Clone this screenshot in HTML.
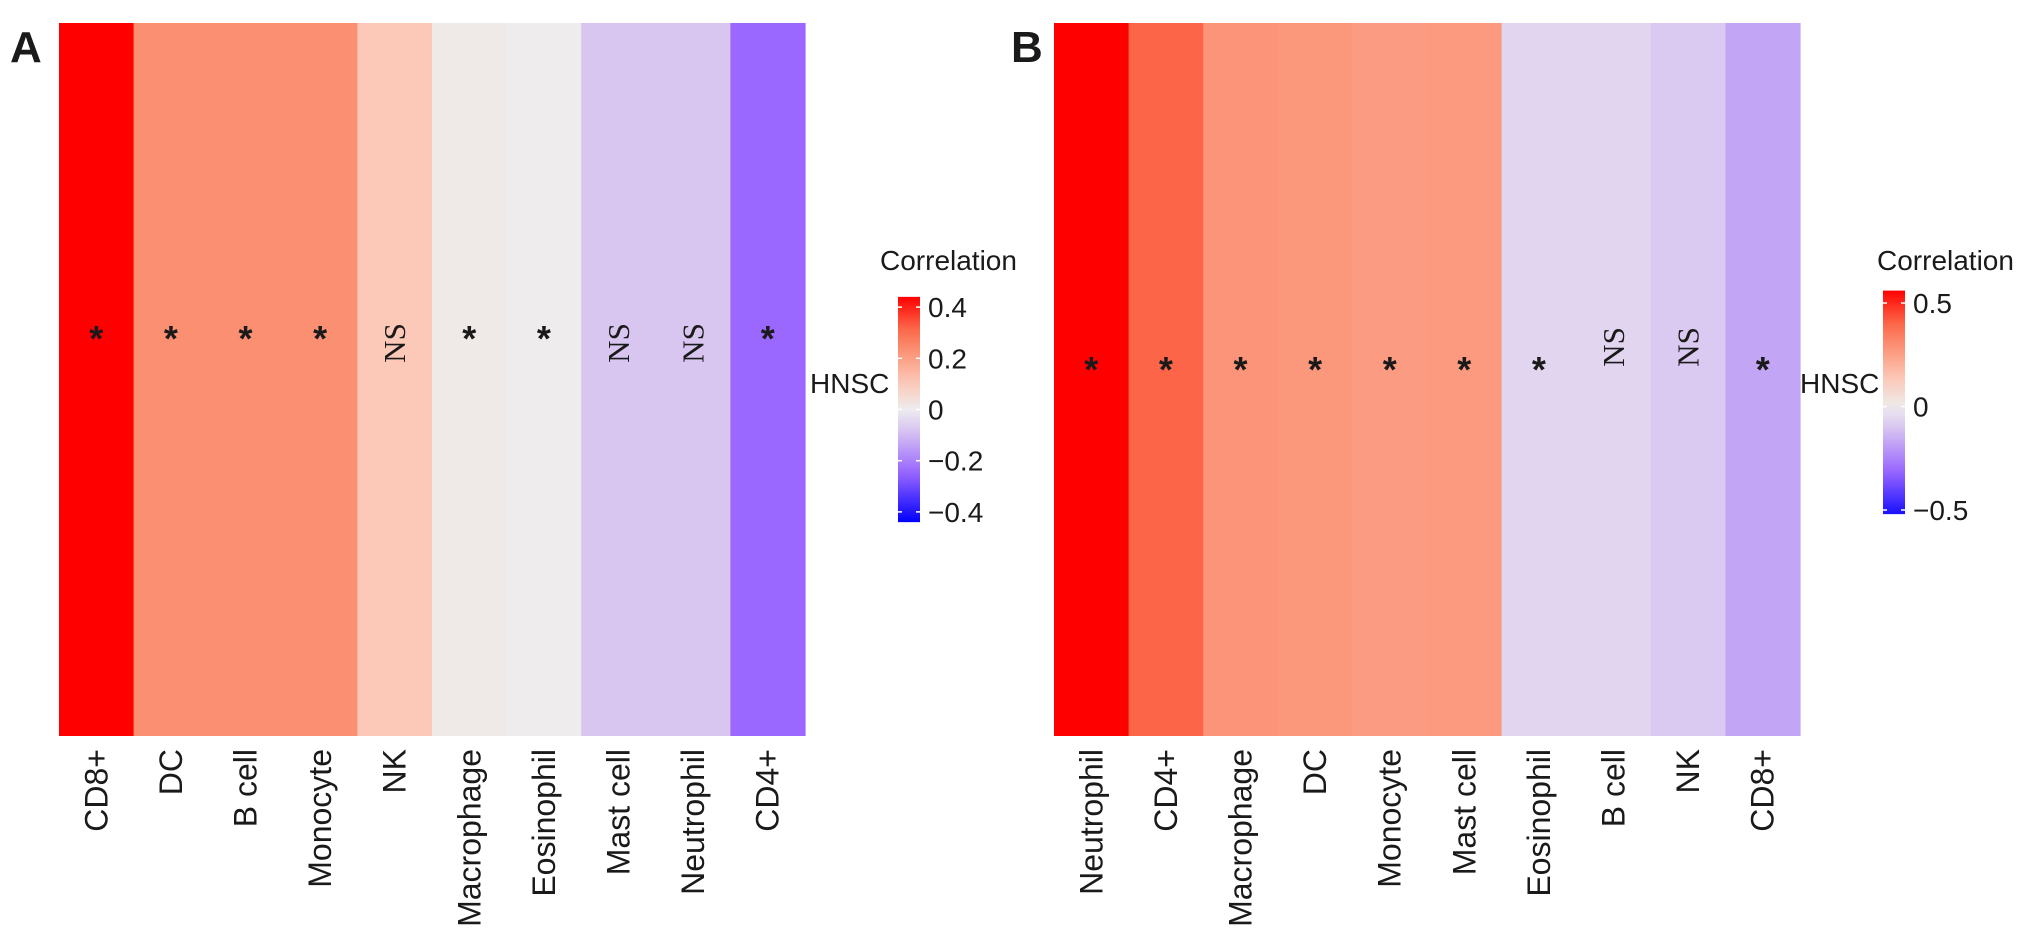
<!DOCTYPE html>
<html><head><meta charset="utf-8"><style>
html,body{margin:0;padding:0;background:#fff;}
svg{display:block;}
text{font-family:"Liberation Sans",Arial,sans-serif;fill:#1a1a1a;}
</style></head>
<body>
<svg id="chart" width="2031" height="938" viewBox="0 0 2031 938" xmlns="http://www.w3.org/2000/svg">
<defs>
<linearGradient id="gA" x1="0" y1="0" x2="0" y2="1"></linearGradient>
<linearGradient id="gB" x1="0" y1="0" x2="0" y2="1"></linearGradient>
</defs>
</svg>
<script>
// Panel A data
const catsA = ["CD8+","DC","B cell","Monocyte","NK","Macrophage","Eosinophil","Mast cell","Neutrophil","CD4+"];
const valsA = [0.45,0.24,0.24,0.24,0.11,0.01,0.0,-0.08,-0.08,-0.25];
const sigA = ["*","*","*","*","NS","*","*","NS","NS","*"];
const ticksA = [0.4,0.2,0,-0.2,-0.4];
const tickLabelsA = ["0.4","0.2","0","\u22120.2","\u22120.4"];
// Panel B data
const catsB = ["Neutrophil","CD4+","Macrophage","DC","Monocyte","Mast cell","Eosinophil","B cell","NK","CD8+"];
const valsB = [0.55,0.40,0.28,0.27,0.26,0.265,-0.06,-0.06,-0.09,-0.17];
const sigB = ["*","*","*","*","*","*","*","NS","NS","*"];
const ticksB = [0.5,0,-0.5];
const tickLabelsB = ["0.5","0","\u22120.5"];

const NS = "http://www.w3.org/2000/svg";
const svg = document.getElementById('chart');
function mk(tag, attrs, parent){
  const e = document.createElementNS(NS, tag);
  for (const k in attrs) e.setAttribute(k, attrs[k]);
  (parent||svg).appendChild(e);
  return e;
}
const posStops = [[0,[238,236,236]],[0.25,[252,199,182]],[0.5,[251,150,122]],[0.73,[252,100,70]],[1,[255,0,0]]];
const negStops = [[0,[238,236,240]],[0.18,[216,198,240]],[0.56,[153,102,255]],[1,[0,0,255]]];
function interp(stops,t){
  t=Math.max(0,Math.min(1,t));
  for(let i=1;i<stops.length;i++){
    if(t<=stops[i][0]){
      const a=stops[i-1],b=stops[i],f=(t-a[0])/(b[0]-a[0]);
      return a[1].map((c,j)=>Math.round(c+(b[1][j]-c)*f));
    }
  }
  return stops[stops.length-1][1];
}
function color(v,max){
  const c = v>=0 ? interp(posStops,v/max) : interp(negStops,-v/max);
  return `rgb(${c[0]},${c[1]},${c[2]})`;
}

function panel(cfg){
  const {x0,x1,y0,y1,cats,vals,sig,max,starY,nsY,letter,letterX,ticks,tickLabels,gid,legTopV,legBotV,legYfn,legX,titleX,hnscX} = cfg;
  const g = mk('g',{});
  
  
  const n = cats.length, w=(x1-x0)/n;
  const xc = i => x0 + w*(i+0.5);
  const pl = mk('text',{x:letterX,y:62,'font-size':44,'font-weight':'bold',fill:'#000'},g);
  pl.textContent = letter;
  
  
  cats.forEach((c,i)=>{
    const r = mk('rect',{x:x0+w*i,y:y0,width:w+0.6,height:y1-y0,fill:color(vals[i],max)},g);
    
    
    const lab = mk('text',{x:0,y:0,'font-size':32,'text-anchor':'end',transform:`translate(${xc(i)+11},${y1+13}) rotate(-90)`},g);
    lab.textContent = c;
    
    
    let s;
    if(sig[i]==="NS"){
      s = mk('text',{x:0,y:0,'font-size':31,'text-anchor':'middle','dominant-baseline':'central',transform:`translate(${xc(i)},${nsY}) rotate(-90)`,style:'font-family:"Liberation Serif",serif'},g);
    } else {
      s = mk('text',{x:xc(i),y:starY+20,'font-size':36,'font-weight':'bold','text-anchor':'middle',fill:'#111'},g);
    }
    s.textContent = sig[i];
    
    
  });
  // legend
  const grad = document.getElementById(gid);
  const nStops = 20;
  for(let k=0;k<=nStops;k++){
    const v = legTopV + (legBotV-legTopV)*k/nStops;
    mk('stop',{offset:(k/nStops*100)+'%','stop-color':color(v,Math.max(Math.abs(legTopV),Math.abs(legBotV)))},grad);
  }
  const lt = legYfn(legTopV), lb = legYfn(legBotV);
  const bar = mk('rect',{x:legX,y:lt,width:22,height:lb-lt,fill:`url(#${gid})`},g);
  
  
  ticks.forEach((t,i)=>{
    const y = legYfn(t);
    mk('line',{x1:legX,x2:legX+4,y1:y,y2:y,stroke:'#fff','stroke-width':1.5},g);
    mk('line',{x1:legX+18,x2:legX+22,y1:y,y2:y,stroke:'#fff','stroke-width':1.5},g);
    const tl = mk('text',{x:legX+30,y:y+10,'font-size':28},g);
    tl.textContent = tickLabels[i];
    
    
  });
  const tt = mk('text',{x:titleX,y:270,'font-size':28},g);
  tt.textContent = 'Correlation';
  
  
  const hn = mk('text',{x:hnscX,y:393,'font-size':28},g);
  hn.textContent = 'HNSC';
  
  
}

panel({x0:59,x1:805,y0:23,y1:736,cats:catsA,vals:valsA,sig:sigA,max:0.45,starY:331,nsY:343,letter:'A',letterX:10,
  ticks:ticksA,tickLabels:tickLabelsA,gid:'gA',legTopV:0.44,legBotV:-0.44,legYfn:v=>409.5-v*256,legX:898,titleX:880,hnscX:810});
panel({x0:1054,x1:1800,y0:23,y1:736,cats:catsB,vals:valsB,sig:sigB,max:0.55,starY:362,nsY:347,letter:'B',letterX:1011,
  ticks:ticksB,tickLabels:tickLabelsB,gid:'gB',legTopV:0.56,legBotV:-0.52,legYfn:v=>406.5-v*207,legX:1883,titleX:1877,hnscX:1800});
</script>
</body></html>
